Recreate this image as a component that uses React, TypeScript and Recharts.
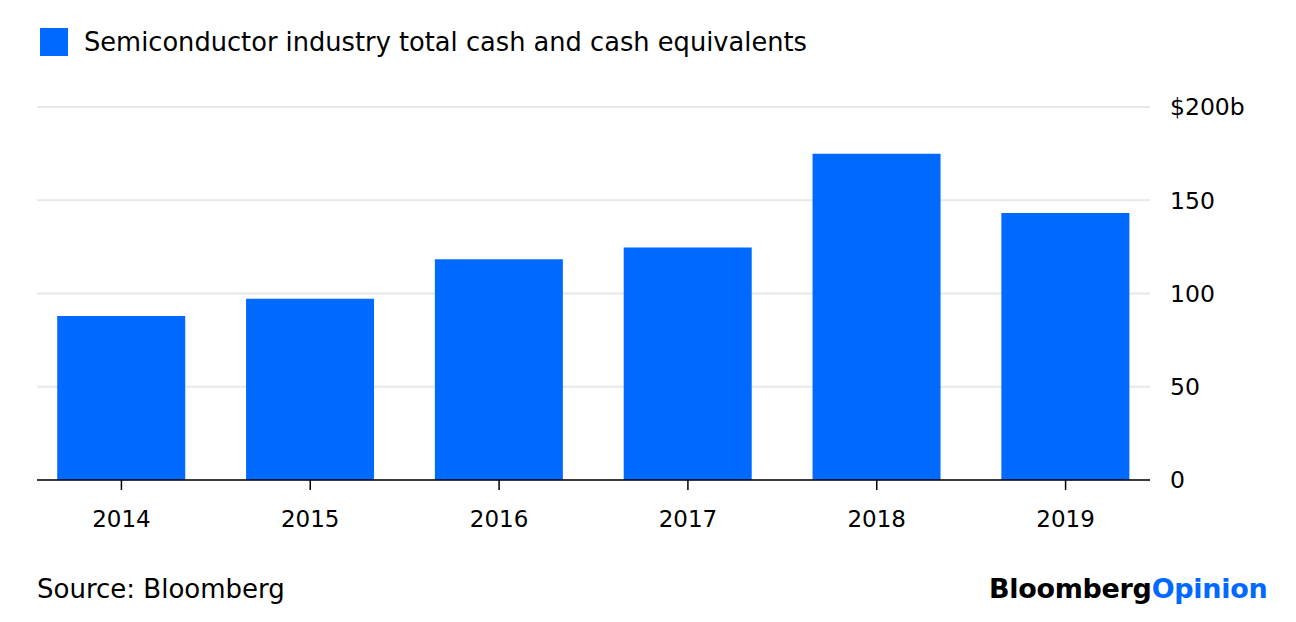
import React from "react";
import { BarChart, Bar, XAxis, YAxis, CartesianGrid } from "recharts";

const years = ["2014", "2015", "2016", "2017", "2018", "2019"];
const cash = [87.9, 97.2, 118.4, 124.6, 175, 143.1];
const yTicks = [0, 50, 100, 150, 200];

const data = years.map((year, i) => ({ year, cash: cash[i] }));

const BLUE = "#0069ff";
const FONT = "'DejaVu Sans', 'Liberation Sans', Arial, sans-serif";

export default function App() {
  return (
    <div
      style={{
        position: "absolute",
        left: 0,
        top: 0,
        width: 1296,
        height: 622,
        background: "#fff",
        fontFamily: FONT,
        color: "#000",
      }}
    >
      {/* legend */}
      <div style={{ position: "absolute", left: 40, top: 28, display: "flex", alignItems: "center" }}>
        <div style={{ width: 28, height: 28, background: BLUE }} />
        <span style={{ marginLeft: 16, fontSize: 25.7, lineHeight: "28px" }}>
          Semiconductor industry total cash and cash equivalents
        </span>
      </div>

      <BarChart
        width={1296}
        height={622}
        data={data}
        margin={{ top: 107, right: 0, left: 37, bottom: 102 }}
        barCategoryGap="16%"
      >
        <CartesianGrid vertical={false} stroke="#e8e8e8" strokeWidth={2} />
        <XAxis
          dataKey="year"
          padding={{ left: -10, right: -10 }}
          axisLine={{ stroke: "#000", strokeWidth: 1.5 }}
          tickLine={{ stroke: "#000", strokeWidth: 1.5 }}
          tickSize={10}
          tickMargin={21}
          height={40}
          tick={{ fill: "#000", fontSize: 23, fontFamily: FONT }}
        />
        <YAxis
          orientation="right"
          domain={[0, 200]}
          ticks={yTicks}
          axisLine={false}
          tickLine={false}
          tickSize={0}
          tickMargin={20}
          width={146}
          tick={{ fill: "#000", fontSize: 23.5, fontFamily: FONT, textAnchor: "start" }}
          tickFormatter={(v: number) => (v === 200 ? "$200b" : String(v))}
        />
        <Bar dataKey="cash" fill={BLUE} isAnimationActive={false} />
      </BarChart>

      {/* footer */}
      <div style={{ position: "absolute", left: 37, top: 574, fontSize: 26 }}>Source: Bloomberg</div>
      <div
        style={{
          position: "absolute",
          left: 989,
          top: 573,
          fontSize: 27,
          fontWeight: 700,
          letterSpacing: -0.3,
        }}
      >
        Bloomberg<span style={{ color: BLUE }}>Opinion</span>
      </div>
    </div>
  );
}
